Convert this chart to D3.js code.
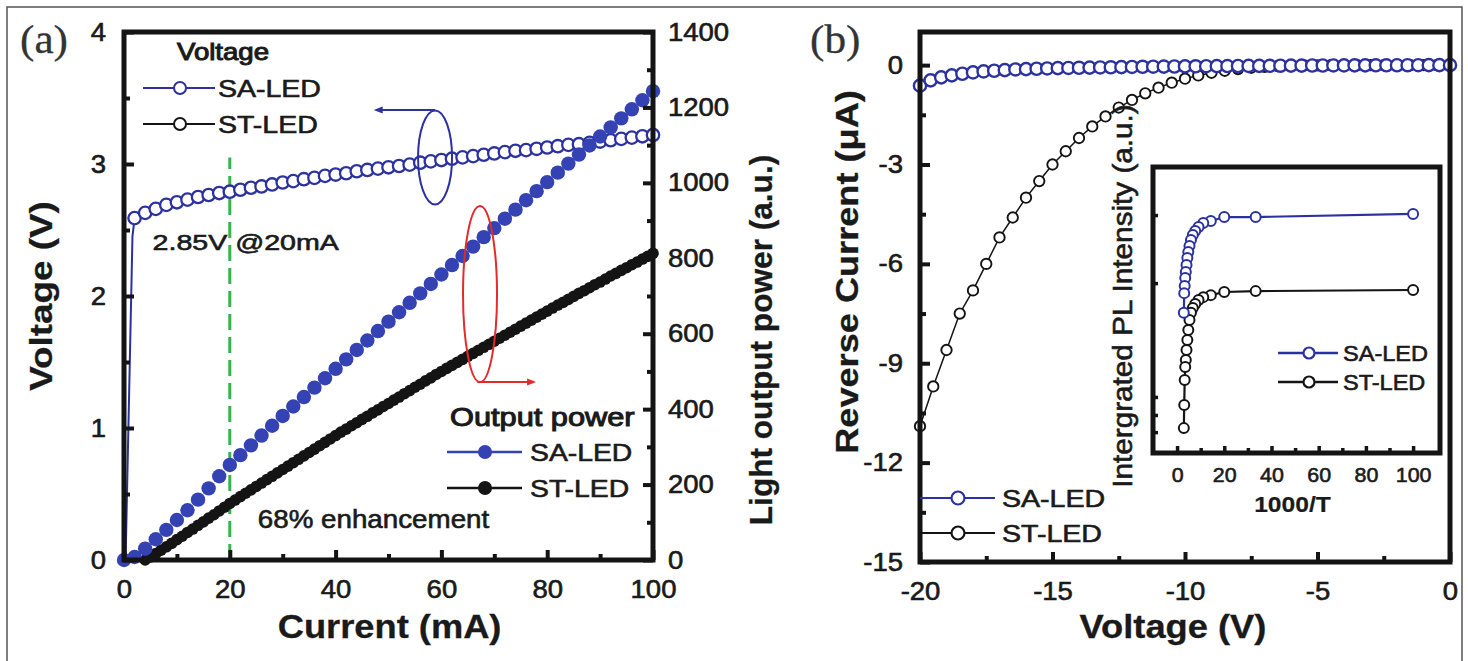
<!DOCTYPE html>
<html lang="en">
<head>
<meta charset="UTF-8">
<title>SA-LED vs ST-LED</title>
<script src="https://d3js.org/d3.v7.min.js"></script>
<style>
  body { margin: 0; background: #fff; }
  svg { display: block; }
</style>
</head>
<body>
<svg id="chart" width="1468" height="661"></svg>
<script>
// ---- panel (a) data ----
const voltLeadI = [0.3, 1.6];
const voltLeadV = [0, 2.45];
const voltI = d3.range(2, 101, 2);
const voltSA = [2.59,2.63,2.66,2.69,2.71,2.73,2.75,2.765,2.78,2.79,
  2.805,2.82,2.83,2.845,2.86,2.87,2.885,2.895,2.91,2.92,
  2.93,2.945,2.955,2.965,2.975,2.985,2.995,3.01,3.02,3.03,
  3.04,3.05,3.06,3.07,3.08,3.09,3.10,3.105,3.115,3.125,
  3.135,3.145,3.15,3.16,3.17,3.18,3.19,3.20,3.21,3.22];
const powerSAI = d3.range(0, 101, 2);
const powerSA = [0,8,30,55,80,106,132,160,190,222,252,
  278,304,330,356,382,407,432,457,482,507,
  532,557,582,607,632,657,682,707,732,757,
  782,806,831,856,880,905,929,954,978,1002,
  1027,1051,1075,1099,1123,1147,1171,1195,1219,1243];
const powerSTI = d3.range(4, 101, 1);
const powerST = [0,8,17,26,35,44,54,63,73,82,
  92,101,111,120,130,140,150,159,168,177,
  186,195,204,213,222,231,240,249,258,267,
  276,285,294,303,312,321,330,339,347,356,
  364,373,381,390,398,407,415,424,432,441,
  449,458,466,475,483,492,500,508,516,524,
  532,540,548,556,564,572,580,588,596,604,
  612,620,628,636,644,652,660,668,676,683,
  691,699,707,714,722,730,737,745,753,760,
  768,775,783,790,798,805,813];
const ticksA_I = [0, 20, 40, 60, 80, 100];
const ticksA_V = [0, 1, 2, 3, 4];
const ticksA_P = [0, 200, 400, 600, 800, 1000, 1200, 1400];

// ---- panel (b) data ----
const revVSA = d3.range(-20, 0.01, 0.4);
const revSA = [-0.62,-0.46,-0.37,-0.31,-0.26,-0.22,-0.19,-0.17,-0.15,-0.13,
  -0.12,-0.11,-0.10,-0.09,-0.085,-0.08,-0.075,-0.07,-0.065,-0.06,
  -0.055,-0.05,-0.047,-0.044,-0.041,-0.038,-0.035,-0.032,-0.03,-0.028,
  -0.026,-0.024,-0.022,-0.02,-0.018,-0.016,-0.014,-0.012,-0.011,-0.01,
  -0.009,-0.008,-0.007,-0.006,-0.005,-0.004,-0.003,-0.002,-0.001,0,0];
const revVST = d3.range(-20, 0.01, 0.5);
const revST = [-10.9,-9.7,-8.6,-7.5,-6.8,-6.0,-5.2,-4.6,-4.0,-3.5,
  -3.0,-2.6,-2.2,-1.85,-1.55,-1.28,-1.05,-0.85,-0.68,-0.53,
  -0.41,-0.31,-0.23,-0.17,-0.12,-0.08,-0.05,-0.03,-0.02,-0.01,
  -0.005,0,0,0,0,0,0,0,0,0,0];
const ticksB_V = [-20, -15, -10, -5, 0];
const ticksB_I = [0, -3, -6, -9, -12, -15];

// ---- inset data (1000/T vs integrated PL) ----
const invT = [100, 33.3, 20, 14.3, 11.1, 9.09, 7.69, 6.67, 5.88, 5.26, 4.76, 4.35, 4.0, 3.70, 3.45, 3.23, 3.03, 2.86];
const plSA = [0.836,0.825,0.825,0.811,0.804,0.790,0.776,0.762,0.745,0.724,0.703,0.682,0.657,0.633,0.612,0.584,0.559,0.490];
const plST = [0.570,0.566,0.563,0.552,0.545,0.535,0.521,0.507,0.490,0.465,0.430,0.395,0.360,0.325,0.301,0.255,0.168,0.087];
const ticksIn_X = [0, 20, 40, 60, 80, 100];
const ticksIn_Y = [0.073, 0.133, 0.196, 0.594, 0.832];

const SANS = "'Liberation Sans', Arial, sans-serif";
const SERIF = "'Liberation Serif', 'Times New Roman', serif";
const BLUE = "#2c31a0", BLUEF = "#3442b3", BLACK = "#141414", RED = "#e42a2a", GREEN = "#34b54c";

const svg = d3.select("#chart");

svg.append("rect").attr("x", 7).attr("y", 7).attr("width", 1455).attr("height", 670)
  .attr("fill", "none").attr("stroke", "#555").attr("stroke-width", 1.5);

// text with a slight horizontal stretch and a thin outline (the scan looks heavier than plain Arial)
function txt(g, x, y, s, o = {}) {
  const fill = o.fill || "#1a1a1a";
  return g.append("text")
    .attr("transform", `translate(${x},${y}) rotate(${o.rot || 0}) scale(${o.sx || 1},1)`)
    .attr("text-anchor", o.anchor || "start")
    .attr("font-family", o.family || SANS)
    .attr("font-size", o.size || 24)
    .attr("font-weight", o.weight || "normal")
    .attr("fill", fill)
    .attr("stroke", fill).attr("stroke-width", o.sw == null ? 0.6 : o.sw)
    .text(s);
}

// inward ticks: major + minor, labels scaled horizontally
function axis(g, make, scale, major, minor, o = {}) {
  const fmt = o.fmt || (d => String(d));
  const sx = o.sx || 1.1;
  const a = g.append("g").attr("transform", o.at || null)
    .call(make(scale).tickValues(major).tickSize(-(o.len || 10)).tickPadding(o.pad || 16).tickFormat(fmt));
  const m = g.append("g").attr("transform", o.at || null)
    .call(make(scale).tickValues(minor).tickSize(-(o.mlen || 6)).tickFormat(""));
  [a, m].forEach(s => {
    s.select(".domain").remove();
    s.selectAll(".tick line").attr("stroke", BLACK).attr("stroke-width", o.tw || 4);
  });
  a.selectAll(".tick text")
    .attr("font-family", SANS).attr("font-size", o.size || 25).attr("fill", "#1a1a1a")
    .attr("stroke", "#1a1a1a").attr("stroke-width", 0.6)
    .attr("x", function() { return (+d3.select(this).attr("x") || 0) / sx; })
    .attr("transform", `scale(${sx},1)`);
  return a;
}

function frame(g, x0, y0, x1, y1, w) {
  g.append("rect").attr("x", x0).attr("y", y0).attr("width", x1 - x0).attr("height", y1 - y0)
    .attr("fill", "none").attr("stroke", BLACK).attr("stroke-width", w || 5);
}

// =================== panel (a) ===================
const A = { x0: 124, y0: 32, x1: 653, y1: 560 };
const xA = d3.scaleLinear().domain([0, 100]).range([A.x0, A.x1]);
const yV = d3.scaleLinear().domain([0, 4]).range([A.y1, A.y0]);
const yP = d3.scaleLinear().domain([0, 1400]).range([A.y1, A.y0]);
const ga = svg.append("g");

// green dashed marker at 20 mA
ga.append("line").attr("x1", xA(20)).attr("x2", xA(20)).attr("y1", yV(0)).attr("y2", yV(3.05))
  .attr("stroke", GREEN).attr("stroke-width", 3).attr("stroke-dasharray", "16,7");

// voltage (SA) curve
const voltPts = voltLeadI.map((d, i) => [d, voltLeadV[i]]).concat(voltI.map((d, i) => [d, voltSA[i]]));
ga.append("path").datum(voltPts)
  .attr("d", d3.line().x(d => xA(d[0])).y(d => yV(d[1])))
  .attr("fill", "none").attr("stroke", BLUE).attr("stroke-width", 2);
ga.append("g").selectAll("circle").data(voltI).join("circle")
  .attr("cx", d => xA(d)).attr("cy", (d, i) => yV(voltSA[i])).attr("r", 6.2)
  .attr("fill", "#fff").attr("stroke", BLUE).attr("stroke-width", 2.3);

// output power
ga.append("g").selectAll("circle").data(powerSTI).join("circle")
  .attr("cx", d => xA(d)).attr("cy", (d, i) => yP(powerST[i])).attr("r", 5.8)
  .attr("fill", BLACK);
ga.append("g").selectAll("circle").data(powerSAI).join("circle")
  .attr("cx", d => xA(d)).attr("cy", (d, i) => yP(powerSA[i])).attr("r", 7.2)
  .attr("fill", BLUEF);

// ellipse + arrow annotations
ga.append("ellipse").attr("cx", xA(58.8)).attr("cy", yV(3.05)).attr("rx", 17).attr("ry", 47)
  .attr("fill", "none").attr("stroke", BLUE).attr("stroke-width", 2);
ga.append("line").attr("x1", xA(58.8)).attr("x2", xA(47.8)).attr("y1", yV(3.41)).attr("y2", yV(3.41))
  .attr("stroke", BLUE).attr("stroke-width", 2);
ga.append("path").attr("d", `M${xA(47.2)},${yV(3.41)} l9,-3.5 l0,7 z`).attr("fill", BLUE);

ga.append("ellipse").attr("cx", xA(67.3)).attr("cy", yP(705)).attr("rx", 17).attr("ry", 88)
  .attr("fill", "none").attr("stroke", RED).attr("stroke-width", 2);
ga.append("line").attr("x1", xA(66.8)).attr("x2", xA(77.2)).attr("y1", yP(472)).attr("y2", yP(472))
  .attr("stroke", RED).attr("stroke-width", 2);
ga.append("path").attr("d", `M${xA(77.9)},${yP(472)} l-9,-3.5 l0,7 z`).attr("fill", RED);

// axes
axis(ga, d3.axisLeft, yV, ticksA_V, [0.5, 1.5, 2.5, 3.5], { at: `translate(${A.x0},0)`, pad: 18 });
axis(ga, d3.axisRight, yP, ticksA_P, [100, 300, 500, 700, 900, 1100, 1300], { at: `translate(${A.x1},0)`, pad: 15 });
axis(ga, d3.axisBottom, xA, ticksA_I, [10, 30, 50, 70, 90], { at: `translate(0,${A.y1})`, pad: 20 });
frame(ga, A.x0, A.y0, A.x1, A.y1);

// texts
txt(ga, 20, 53, "(a)", { family: SERIF, size: 40, sx: 1.08, fill: "#333", sw: 0.3 });
txt(ga, xA(50.2), 638, "Current (mA)", { size: 33, weight: "bold", anchor: "middle", sx: 1.1, sw: 0.3 });
txt(ga, 52, (A.y0 + A.y1) / 2, "Voltage (V)", { size: 32, weight: "bold", anchor: "middle", rot: -90, sx: 1.15, sw: 0.3 });
txt(ga, 772, 340, "Light output power (a.u.)", { size: 31, weight: "bold", anchor: "middle", rot: -90, sx: 1.02, sw: 0.3 });
txt(ga, xA(5.4), yV(2.35), "2.85V @20mA", { size: 22, sx: 1.3 });
txt(ga, xA(25.3), yP(85), "68% enhancement", { size: 25, sx: 1.11 });

// legend: voltage
txt(ga, 177, 60, "Voltage", { size: 23, sx: 1.2, sw: 1 });
[["SA-LED", BLUE, 88], ["ST-LED", BLACK, 124]].forEach(([name, c, y]) => {
  ga.append("line").attr("x1", 143).attr("x2", 215).attr("y1", y).attr("y2", y).attr("stroke", c).attr("stroke-width", 2);
  ga.append("circle").attr("cx", 180).attr("cy", y).attr("r", 6).attr("fill", "#fff").attr("stroke", c).attr("stroke-width", 2);
  txt(ga, 218, y + 9, name, { size: 23, sx: 1.24 });
});
// legend: output power
txt(ga, 450, 426, "Output power", { size: 25, sx: 1.23, sw: 1 });
[["SA-LED", BLUEF, 452], ["ST-LED", BLACK, 488]].forEach(([name, c, y]) => {
  ga.append("line").attr("x1", 447).attr("x2", 522).attr("y1", y).attr("y2", y).attr("stroke", c).attr("stroke-width", 2.5);
  ga.append("circle").attr("cx", 485).attr("cy", y).attr("r", 7).attr("fill", c);
  txt(ga, 530, y + 9, name, { size: 24, sx: 1.18 });
});

// =================== panel (b) ===================
const B = { x0: 920, y0: 32, x1: 1450, y1: 562 };
const xB = d3.scaleLinear().domain([-20, 0]).range([B.x0, B.x1]);
const yB = d3.scaleLinear().domain([-15, 1]).range([B.y1, B.y0]);
const gb = svg.append("g");

gb.append("path").datum(revVST.map((d, i) => [d, revST[i]]))
  .attr("d", d3.line().x(d => xB(d[0])).y(d => yB(d[1])))
  .attr("fill", "none").attr("stroke", BLACK).attr("stroke-width", 1.5);
gb.append("g").selectAll("circle").data(revVST).join("circle")
  .attr("cx", d => xB(d)).attr("cy", (d, i) => yB(revST[i])).attr("r", 5.2)
  .attr("fill", "#fff").attr("stroke", BLACK).attr("stroke-width", 1.9);
gb.append("path").datum(revVSA.map((d, i) => [d, revSA[i]]))
  .attr("d", d3.line().x(d => xB(d[0])).y(d => yB(d[1])))
  .attr("fill", "none").attr("stroke", BLUE).attr("stroke-width", 2);
gb.append("g").selectAll("circle").data(revVSA).join("circle")
  .attr("cx", d => xB(d)).attr("cy", (d, i) => yB(revSA[i])).attr("r", 6.1)
  .attr("fill", "#fff").attr("stroke", BLUE).attr("stroke-width", 2.4);

axis(gb, d3.axisLeft, yB, ticksB_I, [-1.5, -4.5, -7.5, -10.5, -13.5], { at: `translate(${B.x0},0)`, pad: 17 });
axis(gb, d3.axisBottom, xB, ticksB_V, [-17.5, -12.5, -7.5, -2.5], { at: `translate(0,${B.y1})`, pad: 20 });
frame(gb, B.x0, B.y0, B.x1, B.y1);

txt(gb, 810, 53, "(b)", { family: SERIF, size: 40, sx: 1.08, fill: "#333", sw: 0.3 });
txt(gb, 1173, 638, "Voltage (V)", { size: 33, weight: "bold", anchor: "middle", sx: 1.1, sw: 0.3 });
txt(gb, 858, 272, "Reverse Current (\u03bcA)", { size: 32, weight: "bold", anchor: "middle", rot: -90, sx: 1.13, sw: 0.3 });

[["SA-LED", BLUE, 498], ["ST-LED", BLACK, 533]].forEach(([name, c, y]) => {
  gb.append("line").attr("x1", B.x0).attr("x2", 995).attr("y1", y).attr("y2", y).attr("stroke", c).attr("stroke-width", 2);
  gb.append("circle").attr("cx", 958).attr("cy", y).attr("r", 6.5).attr("fill", "#fff").attr("stroke", c).attr("stroke-width", 2.2);
  txt(gb, 1002, y + 9, name, { size: 24, sx: 1.19 });
});

// ---- inset ----
const IN = { x0: 1153, y0: 167, x1: 1440, y1: 453 };
const xIn = d3.scaleLinear().domain([-10.2, 111.4]).range([IN.x0, IN.x1]);
const yIn = d3.scaleLinear().domain([0, 1]).range([IN.y1, IN.y0]);
const gi = svg.append("g");
gi.append("rect").attr("x", IN.x0).attr("y", IN.y0).attr("width", IN.x1 - IN.x0).attr("height", IN.y1 - IN.y0).attr("fill", "#fff");

[[plST, BLACK], [plSA, BLUE]].forEach(([vals, c]) => {
  gi.append("path").datum(invT.map((d, i) => [d, vals[i]]))
    .attr("d", d3.line().x(d => xIn(d[0])).y(d => yIn(d[1])))
    .attr("fill", "none").attr("stroke", c).attr("stroke-width", 2.2);
  gi.append("g").selectAll("circle").data(invT).join("circle")
    .attr("cx", d => xIn(d)).attr("cy", (d, i) => yIn(vals[i])).attr("r", 5)
    .attr("fill", "#fff").attr("stroke", c).attr("stroke-width", 2);
});

axis(gi, d3.axisBottom, xIn, ticksIn_X, [10, 30, 50, 70, 90], { at: `translate(0,${IN.y1})`, pad: 14, size: 21, sx: 1.02, len: 7, mlen: 5, tw: 3.5 });
axis(gi, d3.axisLeft, yIn, ticksIn_Y, [], { at: `translate(${IN.x0},0)`, pad: 10, len: 5, tw: 3.5, fmt: () => "" });
frame(gi, IN.x0, IN.y0, IN.x1, IN.y1, 5);

txt(gi, (IN.x0 + IN.x1) / 2 - 4, 512, "1000/T", { size: 22, weight: "bold", anchor: "middle", sx: 1.12, sw: 0.2 });
txt(gi, 1132, 296, "Intergrated PL Intensity (a.u.)", { size: 27, anchor: "middle", rot: -90, sx: 1.1 });

[["SA-LED", BLUE, 353], ["ST-LED", BLACK, 382]].forEach(([name, c, y]) => {
  gi.append("line").attr("x1", 1278).attr("x2", 1338).attr("y1", y).attr("y2", y).attr("stroke", c).attr("stroke-width", 2.5);
  gi.append("circle").attr("cx", 1309).attr("cy", y).attr("r", 5.5).attr("fill", "#fff").attr("stroke", c).attr("stroke-width", 2.2);
  txt(gi, 1343, y + 8, name, { size: 22, sx: 1.07 });
});
</script>
</body>
</html>
